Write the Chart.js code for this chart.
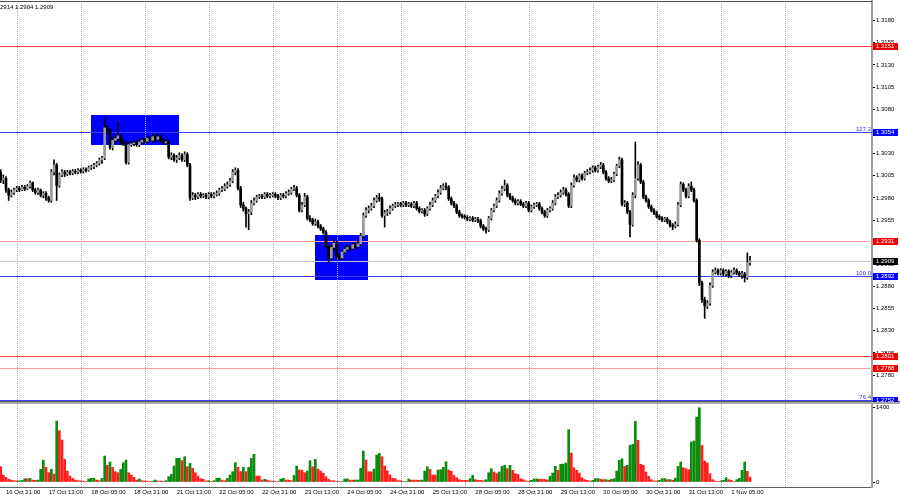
<!DOCTYPE html>
<html>
<head>
<meta charset="utf-8">
<script src="https://cdn.jsdelivr.net/npm/chart.js@4.4.1/dist/chart.umd.min.js"></script>
<style>
  html, body { margin: 0; padding: 0; background: #fff; width: 900px; height: 500px; overflow: hidden; }
  #price { position: absolute; left: 0; top: 0; }
  #vol { position: absolute; left: 0; top: 402px; }
</style>
</head>
<body>
<canvas id="price" width="900" height="402"></canvas>
<canvas id="vol" width="900" height="98"></canvas>
<script>
// H1 candles (bar index 0 = 16 Oct 19:00)
var opens = [
  1.3009,1.3000,1.3002,1.2989,1.2983,1.2986,1.2989,1.2991,1.2989,1.2992,1.2990,1.2993,
  1.2997,1.2989,1.2986,1.2989,1.2983,1.2985,1.2980,1.2977,1.3009,1.3017,1.2994,1.3006,
  1.3009,1.3007,1.3009,1.3008,1.3010,1.3009,1.3011,1.3010,1.3012,1.3011,1.3014,1.3015,
  1.3017,1.3019,1.3023,1.3025,1.3059,1.3056,1.3037,1.3045,1.3047,1.3050,1.3043,1.3042,
  1.3020,1.3040,1.3041,1.3042,1.3040,1.3043,1.3045,1.3044,1.3047,1.3045,1.3049,1.3046,
  1.3049,1.3045,1.3042,1.3043,1.3026,1.3028,1.3023,1.3025,1.3028,1.3023,1.3029,1.3017,
  1.2980,1.2983,1.2981,1.2984,1.2982,1.2983,1.2981,1.2984,1.2982,1.2984,1.2985,1.2989,
  1.2990,1.2993,1.2995,1.2999,1.3009,1.3011,1.2991,1.2972,1.2968,1.2962,1.2964,1.2974,
  1.2977,1.2981,1.2982,1.2981,1.2984,1.2982,1.2983,1.2984,1.2982,1.2980,1.2983,1.2982,
  1.2985,1.2986,1.2990,1.2991,1.2983,1.2966,1.2972,1.2981,1.2957,1.2955,1.2951,1.2953,
  1.2948,1.2945,1.2941,1.2925,1.2912,1.2924,1.2929,1.2914,1.2912,1.2919,1.2922,1.2924,
  1.2923,1.2927,1.2925,1.2928,1.2937,1.2960,1.2966,1.2968,1.2971,1.2977,1.2980,1.2979,
  1.2960,1.2963,1.2964,1.2968,1.2971,1.2972,1.2973,1.2972,1.2974,1.2972,1.2973,1.2971,
  1.2974,1.2968,1.2965,1.2966,1.2962,1.2968,1.2972,1.2977,1.2982,1.2986,1.2991,1.2993,
  1.2992,1.2979,1.2974,1.2971,1.2964,1.2960,1.2959,1.2958,1.2956,1.2957,1.2955,1.2956,
  1.2954,1.2948,1.2945,1.2944,1.2957,1.2966,1.2971,1.2977,1.2985,1.2990,1.2994,1.2983,
  1.2980,1.2977,1.2974,1.2976,1.2973,1.2971,1.2974,1.2966,1.2970,1.2972,1.2973,1.2968,
  1.2964,1.2960,1.2966,1.2968,1.2974,1.2981,1.2983,1.2986,1.2989,1.2984,1.2971,1.2994,
  1.3003,1.3000,1.3005,1.3002,1.3008,1.3009,1.3011,1.3014,1.3011,1.3015,1.3017,1.3009,
  1.3002,1.2999,1.3000,1.3007,1.3016,1.3023,1.2973,1.2974,1.2964,1.2950,1.2983,1.3002,
  1.3017,1.2998,1.2981,1.2977,1.2970,1.2966,1.2963,1.2959,1.2957,1.2955,1.2956,1.2953,
  1.2949,1.2948,1.2950,1.2972,1.2995,1.2989,1.2982,1.2993,1.2989,1.2977,1.2932,1.2884,
  1.2865,1.2858,1.2861,1.2881,1.2896,1.2898,1.2895,1.2898,1.2894,1.2897,1.2892,1.2896,
  1.2898,1.2895,1.2893,1.2894,1.2890,1.2907
];
var highs = [
  1.3012,1.3006,1.3004,1.2991,1.2989,1.2991,1.2993,1.2993,1.2994,1.2994,1.2995,1.2999,
  1.2998,1.2991,1.2991,1.2990,1.2987,1.2987,1.2982,1.3012,1.3023,1.3019,1.3008,1.3012,
  1.3011,1.3011,1.3011,1.3012,1.3012,1.3013,1.3013,1.3014,1.3014,1.3016,1.3017,1.3019,
  1.3021,1.3025,1.3027,1.3071,1.3062,1.3058,1.3048,1.3050,1.3066,1.3052,1.3046,1.3044,
  1.3042,1.3044,1.3045,1.3044,1.3046,1.3048,1.3047,1.3050,1.3049,1.3052,1.3051,1.3052,
  1.3051,1.3047,1.3046,1.3045,1.3031,1.3030,1.3028,1.3031,1.3030,1.3032,1.3031,1.3019,
  1.2986,1.2985,1.2986,1.2986,1.2985,1.2985,1.2986,1.2986,1.2986,1.2988,1.2991,1.2993,
  1.2996,1.2998,1.3002,1.3012,1.3014,1.3013,1.2993,1.2975,1.2970,1.2967,1.2977,1.2980,
  1.2983,1.2984,1.2984,1.2986,1.2986,1.2985,1.2986,1.2986,1.2984,1.2985,1.2985,1.2987,
  1.2989,1.2992,1.2994,1.2993,1.2985,1.2975,1.2985,1.2983,1.2960,1.2957,1.2956,1.2955,
  1.2950,1.2947,1.2943,1.2927,1.2927,1.2933,1.2931,1.2917,1.2921,1.2925,1.2926,1.2926,
  1.2929,1.2929,1.2931,1.2940,1.2963,1.2969,1.2971,1.2974,1.2980,1.2983,1.2985,1.2981,
  1.2966,1.2967,1.2971,1.2973,1.2975,1.2975,1.2975,1.2976,1.2976,1.2975,1.2975,1.2976,
  1.2976,1.2970,1.2968,1.2968,1.2970,1.2975,1.2980,1.2984,1.2989,1.2994,1.2996,1.2997,
  1.2994,1.2981,1.2976,1.2973,1.2966,1.2962,1.2961,1.2960,1.2959,1.2959,1.2958,1.2958,
  1.2956,1.2950,1.2947,1.2959,1.2968,1.2973,1.2980,1.2988,1.2993,1.3000,1.2996,1.2985,
  1.2982,1.2979,1.2978,1.2978,1.2975,1.2976,1.2976,1.2972,1.2974,1.2975,1.2975,1.2970,
  1.2966,1.2968,1.2970,1.2977,1.2984,1.2986,1.2989,1.2992,1.2991,1.2986,1.2997,1.3006,
  1.3005,1.3007,1.3007,1.3010,1.3012,1.3014,1.3016,1.3016,1.3017,1.3020,1.3019,1.3011,
  1.3004,1.3003,1.3009,1.3018,1.3026,1.3025,1.2977,1.2976,1.2966,1.2986,1.3043,1.3021,
  1.3019,1.3000,1.2983,1.2979,1.2972,1.2968,1.2965,1.2961,1.2959,1.2958,1.2958,1.2955,
  1.2951,1.2953,1.2975,1.2998,1.2997,1.2991,1.2996,1.2998,1.2991,1.2979,1.2934,1.2886,
  1.2868,1.2864,1.2884,1.2899,1.2901,1.2900,1.2900,1.2900,1.2899,1.2899,1.2898,1.2901,
  1.2900,1.2897,1.2897,1.2896,1.2918,1.2914
];
var lows = [
  1.2997,1.2996,1.2986,1.2977,1.2981,1.2984,1.2987,1.2987,1.2988,1.2988,1.2989,1.2991,
  1.2987,1.2984,1.2984,1.2981,1.2980,1.2977,1.2975,1.2975,1.3006,1.2977,1.2992,1.3004,
  1.3004,1.3005,1.3006,1.3006,1.3007,1.3007,1.3008,1.3008,1.3009,1.3010,1.3012,1.3013,
  1.3015,1.3017,1.3019,1.3023,1.3052,1.3035,1.3034,1.3042,1.3044,1.3040,1.3039,1.3018,
  1.3018,1.3038,1.3039,1.3038,1.3038,1.3041,1.3042,1.3042,1.3043,1.3043,1.3044,1.3044,
  1.3043,1.3040,1.3040,1.3024,1.3023,1.3021,1.3020,1.3023,1.3021,1.3021,1.3015,1.2977,
  1.2978,1.2978,1.2979,1.2980,1.2980,1.2979,1.2979,1.2980,1.2980,1.2982,1.2983,1.2987,
  1.2988,1.2991,1.2993,1.2997,1.3006,1.2989,1.2969,1.2965,1.2947,1.2944,1.2961,1.2972,
  1.2975,1.2979,1.2979,1.2979,1.2980,1.2980,1.2981,1.2980,1.2978,1.2978,1.2980,1.2980,
  1.2983,1.2984,1.2988,1.2981,1.2964,1.2964,1.2970,1.2955,1.2953,1.2949,1.2949,1.2946,
  1.2943,1.2939,1.2923,1.2907,1.2910,1.2921,1.2912,1.2910,1.2910,1.2917,1.2920,1.2921,
  1.2921,1.2923,1.2923,1.2926,1.2935,1.2958,1.2963,1.2966,1.2969,1.2975,1.2976,1.2958,
  1.2947,1.2960,1.2962,1.2966,1.2969,1.2970,1.2970,1.2970,1.2970,1.2970,1.2969,1.2969,
  1.2966,1.2963,1.2963,1.2959,1.2960,1.2966,1.2970,1.2975,1.2980,1.2984,1.2989,1.2989,
  1.2977,1.2972,1.2969,1.2962,1.2958,1.2957,1.2956,1.2954,1.2954,1.2953,1.2953,1.2952,
  1.2946,1.2943,1.2940,1.2942,1.2955,1.2964,1.2969,1.2975,1.2983,1.2988,1.2981,1.2978,
  1.2975,1.2972,1.2972,1.2971,1.2969,1.2969,1.2964,1.2964,1.2968,1.2970,1.2966,1.2962,
  1.2958,1.2958,1.2964,1.2966,1.2972,1.2979,1.2981,1.2984,1.2982,1.2969,1.2969,1.2992,
  1.2998,1.2998,1.3000,1.3000,1.3006,1.3007,1.3009,1.3009,1.3009,1.3013,1.3007,1.3000,
  1.2997,1.2997,1.2998,1.3005,1.3014,1.2971,1.2970,1.2962,1.2936,1.2948,1.2980,1.3000,
  1.2996,1.2979,1.2975,1.2968,1.2964,1.2961,1.2957,1.2955,1.2953,1.2953,1.2951,1.2947,
  1.2944,1.2946,1.2948,1.2970,1.2987,1.2980,1.2980,1.2987,1.2975,1.2930,1.2881,1.2862,
  1.2844,1.2855,1.2859,1.2879,1.2894,1.2893,1.2893,1.2892,1.2892,1.2890,1.2890,1.2894,
  1.2893,1.2891,1.2889,1.2885,1.2888,1.2904
];
var closes = [
  1.3000,1.3002,1.2989,1.2983,1.2986,1.2989,1.2991,1.2989,1.2992,1.2990,1.2993,1.2997,
  1.2989,1.2986,1.2989,1.2983,1.2985,1.2980,1.2977,1.3009,1.3017,1.2994,1.3006,1.3009,
  1.3007,1.3009,1.3008,1.3010,1.3009,1.3011,1.3010,1.3012,1.3011,1.3014,1.3015,1.3017,
  1.3019,1.3023,1.3025,1.3059,1.3056,1.3037,1.3045,1.3047,1.3050,1.3043,1.3042,1.3020,
  1.3040,1.3041,1.3042,1.3040,1.3043,1.3045,1.3044,1.3047,1.3045,1.3049,1.3046,1.3049,
  1.3045,1.3042,1.3043,1.3026,1.3028,1.3023,1.3025,1.3028,1.3023,1.3029,1.3017,1.2980,
  1.2983,1.2981,1.2984,1.2982,1.2983,1.2981,1.2984,1.2982,1.2984,1.2985,1.2989,1.2990,
  1.2993,1.2995,1.2999,1.3009,1.3011,1.2991,1.2972,1.2968,1.2962,1.2964,1.2974,1.2977,
  1.2981,1.2982,1.2981,1.2984,1.2982,1.2983,1.2984,1.2982,1.2980,1.2983,1.2982,1.2985,
  1.2986,1.2990,1.2991,1.2983,1.2966,1.2972,1.2981,1.2957,1.2955,1.2951,1.2953,1.2948,
  1.2945,1.2941,1.2925,1.2912,1.2924,1.2929,1.2914,1.2912,1.2919,1.2922,1.2924,1.2923,
  1.2927,1.2925,1.2928,1.2937,1.2960,1.2966,1.2968,1.2971,1.2977,1.2980,1.2979,1.2960,
  1.2963,1.2964,1.2968,1.2971,1.2972,1.2973,1.2972,1.2974,1.2972,1.2973,1.2971,1.2974,
  1.2968,1.2965,1.2966,1.2962,1.2968,1.2972,1.2977,1.2982,1.2986,1.2991,1.2993,1.2992,
  1.2979,1.2974,1.2971,1.2964,1.2960,1.2959,1.2958,1.2956,1.2957,1.2955,1.2956,1.2954,
  1.2948,1.2945,1.2944,1.2957,1.2966,1.2971,1.2977,1.2985,1.2990,1.2994,1.2983,1.2980,
  1.2977,1.2974,1.2976,1.2973,1.2971,1.2974,1.2966,1.2970,1.2972,1.2973,1.2968,1.2964,
  1.2960,1.2966,1.2968,1.2974,1.2981,1.2983,1.2986,1.2989,1.2984,1.2971,1.2994,1.3003,
  1.3000,1.3005,1.3002,1.3008,1.3009,1.3011,1.3014,1.3011,1.3015,1.3017,1.3009,1.3002,
  1.2999,1.3000,1.3007,1.3016,1.3023,1.2973,1.2974,1.2964,1.2950,1.2983,1.3002,1.3017,
  1.2998,1.2981,1.2977,1.2970,1.2966,1.2963,1.2959,1.2957,1.2955,1.2956,1.2953,1.2949,
  1.2948,1.2950,1.2972,1.2995,1.2989,1.2982,1.2993,1.2989,1.2977,1.2932,1.2884,1.2865,
  1.2858,1.2861,1.2881,1.2896,1.2898,1.2895,1.2898,1.2894,1.2897,1.2892,1.2896,1.2898,
  1.2895,1.2893,1.2894,1.2890,1.2907,1.2909
];
var volumes = [
  286,131,87,50,37,25,18,22,30,62,60,68,
  37,31,37,236,410,274,174,236,149,1138,958,784,
  423,205,112,68,37,25,20,15,12,56,68,70,
  37,25,68,485,311,373,274,193,174,236,361,410,
  174,131,87,37,56,25,19,15,12,19,37,19,
  18,15,25,100,143,299,442,443,398,473,286,348,
  255,174,112,62,50,19,25,12,25,68,70,37,
  25,68,131,193,361,274,193,274,193,274,441,516,
  112,110,37,50,37,19,15,12,10,56,68,37,
  36,25,124,298,224,222,174,205,398,286,423,242,
  205,162,100,50,25,24,12,10,14,56,58,37,
  36,37,38,255,578,410,193,190,242,504,535,473,
  298,211,131,68,62,25,24,10,12,56,37,36,
  35,31,37,205,286,236,131,128,224,230,274,379,
  224,199,124,81,44,31,30,29,62,124,44,31,
  30,25,44,174,249,187,156,187,292,311,249,311,
  218,156,143,62,44,19,12,31,56,58,52,50,
  48,40,106,168,292,218,330,335,355,977,541,267,
  218,168,81,44,31,19,31,62,64,50,44,46,
  31,50,62,205,404,435,292,311,684,703,1132,778,
  330,311,187,106,44,19,18,31,62,64,44,46,
  31,75,292,373,267,249,230,746,765,1213,1387,684,
  392,355,156,44,19,10,20,31,81,44,31,12,
  44,68,218,373,199,93
];

var timeLabels = ['16 Oct 21:00', '17 Oct 13:00', '18 Oct 05:00', '18 Oct 21:00', '21 Oct 13:00',
  '22 Oct 05:00', '22 Oct 21:00', '23 Oct 13:00', '24 Oct 05:00', '24 Oct 21:00', '25 Oct 13:00',
  '28 Oct 05:00', '28 Oct 21:00', '29 Oct 13:00', '30 Oct 05:00', '30 Oct 21:00', '31 Oct 13:00',
  '1 Nov 05:00'];
var timeBars = [2, 18, 34, 50, 66, 82, 98, 114, 130, 146, 162, 178, 194, 210, 226, 242, 258, 274];
var priceTicks = [1.2780, 1.2805, 1.2830, 1.2855, 1.2880, 1.2905, 1.2930, 1.2955, 1.2980,
  1.3005, 1.3030, 1.3055, 1.3080, 1.3105, 1.3130, 1.3155, 1.3180];
var volumeTicks = [0, 1400];

// horizontal levels and fibo marks
var levelPrices = [1.3151, 1.3054, 1.2931, 1.2909, 1.2892, 1.2801, 1.2788, 1.2752];
var fibPrices = [1.3054, 1.2892, 1.2752];
var fibLabels = ['127.2', '100.0', '76.4'];

// blue zones: bar index range and price range
var zoneFrom = [33.9, 117.9];
var zoneTo = [66.9, 137.7];
var zoneHigh = [1.30735, 1.29381];
var zoneLow = [1.30397, 1.28873];

var symbolText = 'GBPUSD,H1';

// ---- styles ----
var FONT_FAMILY = '"Liberation Sans", Arial, sans-serif';
var FONT = { family: FONT_FAMILY, size: 6 };
var X_MIN = -0.25, X_MAX = 326.75;
var GRID_FIRST = 6.125, GRID_STEP = 24, GRID_COUNT = 13;
var levelLine = ['#ff4040', '#4040ff', '#ff9c9c', '#c4c4c4', '#4040ff', '#ff4040', '#ff9c9c', '#4040ff'];
var levelTag = ['#f00000', '#0000ff', '#f00000', '#000000', '#0000ff', '#f00000', '#f00000', '#0000ff'];

Chart.defaults.font.family = FONT_FAMILY;
Chart.defaults.font.size = 6;

function zeroPadding(s) {
  s.paddingLeft = 0; s.paddingRight = 0; s.paddingTop = 0; s.paddingBottom = 0;
}

function dashedGrid(chart) {
  var ctx = chart.ctx, a = chart.chartArea, xs = chart.scales.x;
  ctx.save();
  ctx.strokeStyle = '#a8a8a8';
  ctx.lineWidth = 1;
  ctx.setLineDash([1, 1]);
  for (var k = 0; k < GRID_COUNT; k++) {
    var px = Math.round(xs.getPixelForValue(GRID_FIRST + k * GRID_STEP)) + 0.5;
    ctx.beginPath();
    ctx.moveTo(px, a.top);
    ctx.lineTo(px, a.bottom);
    ctx.stroke();
  }
  ctx.restore();
}

var priceDecor = {
  id: 'priceDecor',
  beforeDatasetsDraw: function (chart) {
    var ctx = chart.ctx, a = chart.chartArea, xs = chart.scales.x, ys = chart.scales.y;
    ctx.save();
    ctx.beginPath();
    ctx.rect(a.left, a.top, a.right - a.left, a.bottom - a.top);
    ctx.clip();
    zoneFrom.forEach(function (f, k) {
      var x0 = xs.getPixelForValue(f), x1 = xs.getPixelForValue(zoneTo[k]);
      var y0 = ys.getPixelForValue(zoneHigh[k]), y1 = ys.getPixelForValue(zoneLow[k]);
      ctx.fillStyle = '#0000ff';
      ctx.fillRect(Math.round(x0), Math.round(y0), Math.round(x1 - x0), Math.round(y1 - y0));
    });
    ctx.restore();
    dashedGrid(chart);
    ctx.save();
    levelPrices.forEach(function (p, k) {
      var y = Math.round(ys.getPixelForValue(p)) + 0.5;
      ctx.strokeStyle = levelLine[k];
      ctx.lineWidth = 1;
      ctx.beginPath();
      ctx.moveTo(a.left, y);
      ctx.lineTo(a.right, y);
      ctx.stroke();
    });
    ctx.restore();
  },
  afterDraw: function (chart) {
    var ctx = chart.ctx, a = chart.chartArea, ys = chart.scales.y;
    var n = closes.length;
    ctx.save();
    // frame
    ctx.fillStyle = '#505050';
    ctx.fillRect(a.left, a.top, a.right - a.left, 1);
    ctx.fillStyle = '#5a5a5a';
    ctx.fillRect(0, 401, 900, 1);
    ctx.font = '6px ' + FONT_FAMILY;
    // price tags on the axis
    ctx.textBaseline = 'middle';
    ctx.textAlign = 'left';
    levelPrices.forEach(function (p, k) {
      var y = Math.round(ys.getPixelForValue(p)) + 0.5;
      ctx.fillStyle = levelTag[k];
      ctx.fillRect(873, y - 3.5, 25, 7);
      ctx.fillStyle = '#ffffff';
      ctx.fillText(p.toFixed(4), 876, y);
    });
    // fibo texts
    ctx.fillStyle = '#3030ff';
    ctx.textAlign = 'right';
    ctx.textBaseline = 'bottom';
    fibPrices.forEach(function (p, k) {
      var y = Math.round(ys.getPixelForValue(p));
      ctx.fillText(fibLabels[k], a.right - 1, y);
    });
    // header, cut off at the left like the terminal window
    var head = symbolText + ' ' + opens[n - 1].toFixed(4) + ' ' + highs[n - 1].toFixed(4) + ' ' +
      lows[n - 1].toFixed(4) + ' ' + closes[n - 1].toFixed(4);
    var cut = ctx.measureText(symbolText + ' ' + opens[n - 1].toFixed(4) + ' 1.').width;
    ctx.fillStyle = '#000';
    ctx.textAlign = 'left';
    ctx.textBaseline = 'alphabetic';
    ctx.fillText(head, -cut, 9);
    ctx.restore();
  }
};

var volDecor = {
  id: 'volDecor',
  beforeDatasetsDraw: function (chart) {
    dashedGrid(chart);
  },
  afterDraw: function (chart) {
    var ctx = chart.ctx;
    ctx.save();
    ctx.fillStyle = '#a8a8a8';
    ctx.fillRect(0, 0, 900, 2);
    ctx.restore();
  }
};

var idx = closes.map(function (_c, i) { return i; });

var baseOptions = {
  responsive: false,
  animation: false,
  devicePixelRatio: 1,
  events: [],
  plugins: { legend: { display: false }, tooltip: { enabled: false } }
};

new Chart(document.getElementById('price'), {
  type: 'bar',
  data: {
    datasets: [
      {
        label: 'wicks',
        order: 2,
        data: idx.map(function (i) { return { x: i, y: [lows[i], highs[i]] }; }),
        backgroundColor: '#000000',
        barThickness: 1,
        minBarLength: 1,
        grouped: false
      },
      {
        label: 'bodies',
        order: 1,
        data: idx.map(function (i) { return { x: i, y: [opens[i], closes[i]] }; }),
        backgroundColor: idx.map(function (i) { return closes[i] >= opens[i] ? '#9c9c9c' : '#000000'; }),
        barThickness: 2,
        minBarLength: 1,
        grouped: false
      }
    ]
  },
  options: Object.assign({}, baseOptions, {
    layout: { padding: { top: 1, bottom: 1, left: 0, right: 0 } },
    scales: {
      x: { type: 'linear', min: X_MIN, max: X_MAX, offset: false, display: false },
      y: {
        position: 'right',
        min: 1.27507,
        max: 1.32022,
        afterBuildTicks: function (s) {
          s.ticks = priceTicks.map(function (v) { return { value: v }; });
        },
        afterFit: function (s) { s.width = 28; zeroPadding(s); },
        ticks: {
          autoSkip: false,
          font: FONT,
          color: '#000',
          padding: 1,
          callback: function (v) { return v.toFixed(4); }
        },
        grid: { drawOnChartArea: false, drawTicks: true, tickLength: 3, color: '#000' },
        border: { display: true, color: '#a0a0a0', width: 2 }
      }
    }
  }),
  plugins: [priceDecor]
});

new Chart(document.getElementById('vol'), {
  type: 'bar',
  data: {
    datasets: [
      {
        label: 'Volumes',
        data: idx.map(function (i) { return { x: i, y: volumes[i] }; }),
        backgroundColor: idx.map(function (i) {
          return i > 0 && volumes[i] > volumes[i - 1] ? '#0c8c0c' : '#ff2020';
        }),
        barThickness: 2,
        grouped: false
      }
    ]
  },
  options: Object.assign({}, baseOptions, {
    layout: { padding: { top: 2, bottom: 0, left: 0, right: 0 } },
    scales: {
      x: {
        type: 'linear',
        min: X_MIN,
        max: X_MAX,
        offset: false,
        position: 'bottom',
        afterBuildTicks: function (s) {
          s.ticks = timeBars.map(function (v) { return { value: v }; });
        },
        afterFit: function (s) { s.height = 13; zeroPadding(s); },
        ticks: {
          autoSkip: false,
          maxRotation: 0,
          minRotation: 0,
          align: 'start',
          font: FONT,
          color: '#000',
          padding: 2,
          callback: function (_v, k) { return timeLabels[k]; }
        },
        grid: { display: false, drawTicks: false, tickLength: 0 },
        border: { display: true, color: '#606060', width: 1 }
      },
      y: {
        position: 'right',
        min: -93,
        max: 1456,
        afterBuildTicks: function (s) {
          s.ticks = volumeTicks.map(function (v) { return { value: v }; });
        },
        afterFit: function (s) { s.width = 28; zeroPadding(s); },
        ticks: {
          autoSkip: false,
          font: FONT,
          color: '#000',
          padding: 1,
          callback: function (v) { return String(v); }
        },
        grid: { drawOnChartArea: false, drawTicks: true, tickLength: 3, color: '#000' },
        border: { display: true, color: '#a0a0a0', width: 2 }
      }
    }
  }),
  plugins: [volDecor]
});
</script>
</body>
</html>
